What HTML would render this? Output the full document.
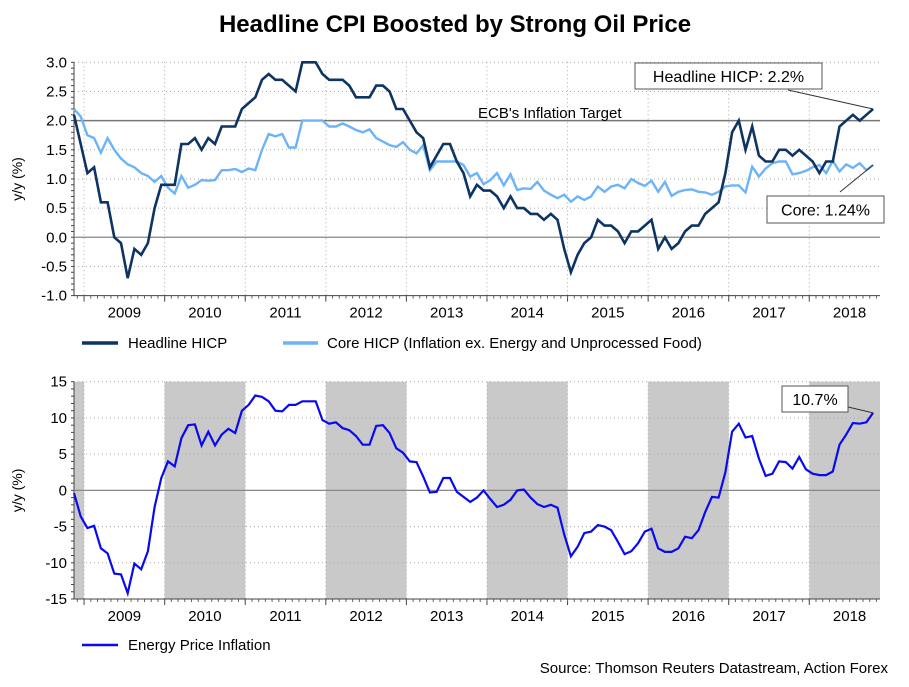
<!DOCTYPE html>
<html><head><meta charset="utf-8"><style>
body{margin:0;background:#fff;font-family:"Liberation Sans",sans-serif}
svg text{font-family:"Liberation Sans",sans-serif}
</style></head><body>
<svg id="c" width="909" height="682" viewBox="0 0 909 682">
<text x="455" y="32" text-anchor="middle" font-size="24" font-weight="bold">Headline CPI Boosted by Strong Oil Price</text>
<g id="top"></g><g id="bot"></g>
<text x="888" y="673" text-anchor="end" font-size="15">Source: Thomson Reuters Datastream, Action Forex</text>
</svg>
<script>
const years=["2009","2010","2011","2012","2013","2014","2015","2016","2017","2018"];
const topTicks=[3.0,2.5,2.0,1.5,1.0,0.5,0.0,-0.5,-1.0];
const botTicks=[15,10,5,0,-5,-10,-15];
const headline=[2.1,1.6,
1.1,1.2,0.6,0.6,0.0,-0.1,-0.7,-0.2,-0.3,-0.1,0.5,0.9,
0.9,0.9,1.6,1.6,1.7,1.5,1.7,1.6,1.9,1.9,1.9,2.2,
2.3,2.4,2.7,2.8,2.7,2.7,2.6,2.5,3.0,3.0,3.0,2.8,
2.7,2.7,2.7,2.6,2.4,2.4,2.4,2.6,2.6,2.5,2.2,2.2,
2.0,1.8,1.7,1.2,1.4,1.6,1.6,1.3,1.1,0.7,0.9,0.8,
0.8,0.7,0.5,0.7,0.5,0.5,0.4,0.4,0.3,0.4,0.3,-0.2,
-0.6,-0.3,-0.1,0.0,0.3,0.2,0.2,0.1,-0.1,0.1,0.1,0.2,
0.3,-0.2,0.0,-0.2,-0.1,0.1,0.2,0.2,0.4,0.5,0.6,1.1,
1.8,2.0,1.5,1.9,1.4,1.3,1.3,1.5,1.5,1.4,1.5,1.4,
1.3,1.1,1.3,1.3,1.9,2.0,2.1,2.0,2.1,2.2];
const core=[2.2,2.07,1.75,1.7,1.45,1.7,1.5,1.35,1.25,1.2,1.1,1.05,0.95,1.05,0.85,0.75,1.05,0.85,0.9,0.98,
0.97,0.98,1.15,1.15,1.17,1.12,1.18,1.15,1.5,1.77,1.73,1.77,1.54,1.54,2.0,2.0,2.0,2.0,1.9,1.9,
1.95,1.9,1.84,1.8,1.85,1.7,1.64,1.58,1.55,1.63,1.5,1.44,1.58,1.15,1.3,1.3,1.3,1.3,1.24,1.04,
1.1,0.91,0.98,1.1,0.89,1.08,0.81,0.84,0.83,0.95,0.8,0.73,0.67,0.73,0.61,0.7,0.64,0.7,0.87,0.78,
0.87,0.9,0.84,1.0,0.93,0.88,0.97,0.78,0.95,0.71,0.78,0.81,0.82,0.78,0.77,0.73,0.78,0.87,0.89,0.89,
0.77,1.21,1.04,1.18,1.27,1.3,1.3,1.08,1.1,1.14,1.2,1.24,1.1,1.31,1.13,1.25,1.19,1.27,1.15,1.24];
const energy=[-0.4,-3.6,-5.2,-4.9,-8.0,-8.7,-11.5,-11.6,-14.2,-10.1,-10.9,-8.4,-2.3,1.7,4.0,3.3,7.2,9.0,9.1,6.2,
8.1,6.2,7.7,8.5,7.9,11.0,11.8,13.1,12.9,12.3,11.0,10.9,11.8,11.8,12.3,12.3,12.3,9.7,9.2,9.4,
8.6,8.3,7.5,6.3,6.3,8.9,9.0,7.9,5.8,5.2,4.0,3.9,1.9,-0.3,-0.2,1.7,1.7,-0.2,-0.9,-1.6,
-1.0,0,-1.2,-2.3,-2.0,-1.3,0,0.1,-1.0,-1.9,-2.3,-2.0,-2.4,-6.1,-9.1,-7.8,-5.9,-5.7,-4.8,-5.0,
-5.5,-7.1,-8.8,-8.4,-7.3,-5.7,-5.3,-8.0,-8.5,-8.5,-8.0,-6.4,-6.6,-5.5,-3.0,-0.9,-1.0,2.5,8.1,9.2,
7.3,7.5,4.4,2.0,2.3,4.0,3.9,3.0,4.6,2.9,2.3,2.1,2.1,2.6,6.3,7.7,9.3,9.2,9.4,10.7];

const NS="http://www.w3.org/2000/svg";
const L=74,R=880,X0=74,DX=6.715;
function xs(i){return X0+DX*i;}
function mk(p,tag,at,txt){const e=document.createElementNS(NS,tag);for(const k in at)e.setAttribute(k,at[k]);if(txt!==undefined)e.textContent=txt;p.appendChild(e);return e;}
function path(vals,ys){return vals.map((v,i)=>(i?"L":"M")+xs(i).toFixed(1)+","+ys(v).toFixed(1)).join("");}

function panel(g,T,B,min,max,ticks,fmt,shade){
  const ys=v=>B-(v-min)/(max-min)*(B-T);
  if(shade){for(let k=-1;k<10;k+=2){const a=Math.max(L,xs(1.5+12*k)),b=Math.min(R,xs(13.5+12*k));
    const r=mk(g,"rect",{x:a,y:T,width:b-a,height:B-T,fill:"#c9c9c9"});
    
    }}
  ticks.forEach(t=>{const y=ys(t);
    mk(g,"line",{x1:L,x2:R,y1:y,y2:y,stroke:"#aaa","stroke-dasharray":"1,3"});
    const tx=mk(g,"text",{x:L-7,y:y+5,"text-anchor":"end","font-size":15},fmt(t));
    
    });
  for(let k=0;k<10;k++){const x=xs(1.5+12*k);
    mk(g,"line",{x1:x,x2:x,y1:T,y2:B,stroke:"#aaa","stroke-dasharray":"1,3"});
    mk(g,"line",{x1:x,x2:x,y1:B,y2:B+6,stroke:"#444"});
    const tx=mk(g,"text",{x:xs(7.5+12*k),y:B+22,"text-anchor":"middle","font-size":15},years[k]);
    
    }
  for(let m=-1.5;m<120;m+=1){const x=xs(m);if(x>=L&&x<=R)mk(g,"line",{x1:x,x2:x,y1:B,y2:B+3,stroke:"#666"});}
  const step=(ticks[0]-ticks[1])/5;
  for(let v=min;v<=max+1e-9;v+=step){mk(g,"line",{x1:L-3,x2:L,y1:ys(v),y2:ys(v),stroke:"#444"});}
  mk(g,"line",{x1:L,x2:L,y1:T,y2:B,stroke:"#444"});
  mk(g,"line",{x1:L,x2:R,y1:B,y2:B,stroke:"#444"});
  mk(g,"line",{x1:L,x2:R,y1:ys(0),y2:ys(0),stroke:"#888","stroke-width":1.2});
  const yl=mk(g,"text",{x:0,y:0,transform:`translate(22,${(T+B)/2}) rotate(-90)`,"text-anchor":"middle","font-size":14},"y/y (%)");
  
  
  return ys;
}
const gt=document.getElementById("top"),gb=document.getElementById("bot");
const yt=panel(gt,62.3,295.6,-1,3,topTicks,t=>t.toFixed(1),false);
mk(gt,"line",{x1:L,x2:R,y1:yt(2),y2:yt(2),stroke:"#777","stroke-width":1.5});
let t=mk(gt,"text",{x:478,y:118,"font-size":15},"ECB's Inflation Target");


let p=mk(gt,"path",{d:path(core,yt),fill:"none",stroke:"#6cb4f7","stroke-width":2.4});


p=mk(gt,"path",{d:path(headline,yt),fill:"none",stroke:"#0d3462","stroke-width":2.6});


function callout(g,x,y,w,h,txt,lx1,ly1,lx2,ly2,name){
  mk(g,"line",{x1:lx1,y1:ly1,x2:lx2,y2:ly2,stroke:"#333"});
  mk(g,"rect",{x:x,y:y,width:w,height:h,fill:"#fff",stroke:"#555"});
  const e=mk(g,"text",{x:x+w/2,y:y+h/2+6,"text-anchor":"middle","font-size":16},txt);
  
  
}
callout(gt,635,63,187,26,"Headline HICP: 2.2%",788,90,xs(119),yt(headline[119]),"headline-callout");
callout(gt,767,196,117,27,"Core: 1.24%",840,192,xs(119),yt(core[119]),"core-callout");
mk(gt,"line",{x1:82,x2:118,y1:343,y2:343,stroke:"#0d3462","stroke-width":3.5});
t=mk(gt,"text",{x:128,y:348,"font-size":15},"Headline HICP");


mk(gt,"line",{x1:283,x2:318,y1:343,y2:343,stroke:"#6cb4f7","stroke-width":3.5});
t=mk(gt,"text",{x:327,y:348,"font-size":15},"Core HICP (Inflation ex. Energy and Unprocessed Food)");



const yb=panel(gb,381.7,599,-15,15,botTicks,t=>String(t),true);
p=mk(gb,"path",{d:path(energy,yb),fill:"none",stroke:"#0a0af0","stroke-width":2.2});


callout(gb,782,386,66,26,"10.7%",848,407,xs(119),yb(energy[119]),"energy-callout");
mk(gb,"line",{x1:82,x2:118,y1:645,y2:645,stroke:"#0a0af0","stroke-width":2.5});
t=mk(gb,"text",{x:128,y:650,"font-size":15},"Energy Price Inflation");


</script>
</body></html>
